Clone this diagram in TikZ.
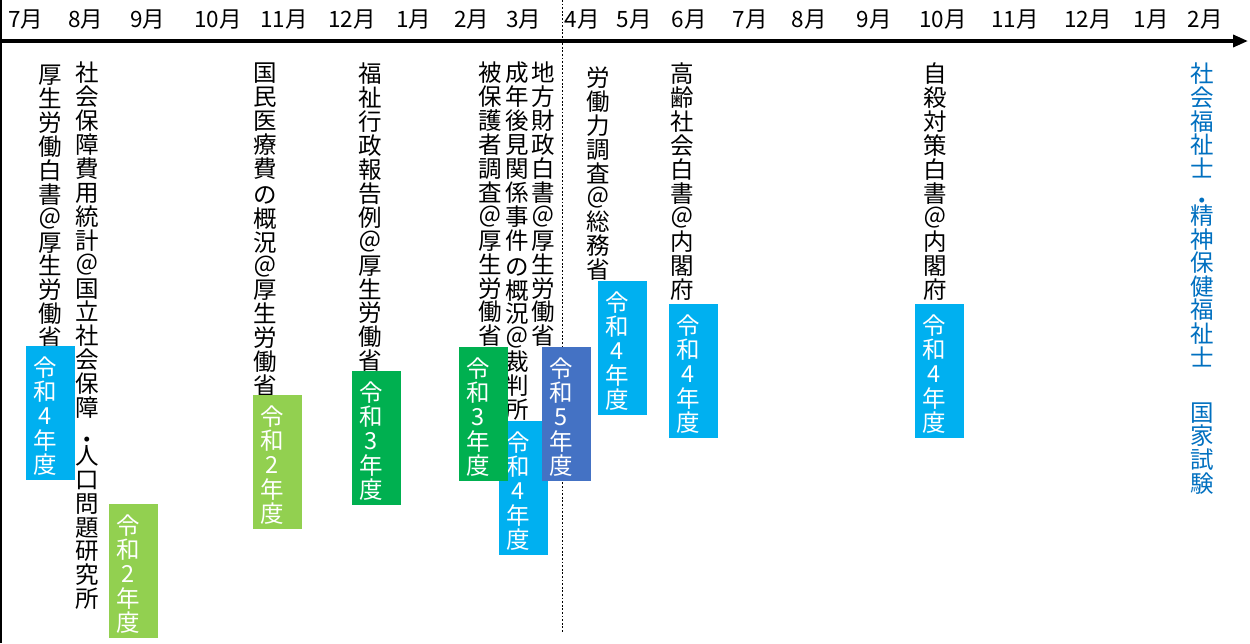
\documentclass[tikz,border=0pt]{standalone}
\usepackage{fontspec}
\setmainfont{Noto Sans CJK JP}
\usetikzlibrary{arrows.meta}
\definecolor{cyanbox}{HTML}{00B0F0}
\definecolor{lgreen}{HTML}{92D050}
\definecolor{dgreen}{HTML}{00B050}
\definecolor{bluebox}{HTML}{4472C4}
\definecolor{txtblue}{HTML}{0070C0}
\begin{document}
\begin{tikzpicture}[x=1pt,y=-1pt,
  month/.style={font=\fontsize{22.5}{24}\selectfont, inner sep=0pt, anchor=center},
  vtext/.style={font=\fontsize{23.5}{23.9}\selectfont, align=center, inner sep=0pt, anchor=north},
  yearbox/.style={minimum width=49pt, minimum height=134pt, inner sep=0pt, draw=none},
  yeartext/.style={font=\fontsize{23.5}{24.2}\selectfont, align=center, inner sep=0pt, text=white},
  axisline/.style={line width=3.5pt, -{Triangle[length=15pt,width=12pt]}},
  dotline/.style={line width=0.9pt, dash pattern=on 1.8pt off 1.8pt},
]
\useasboundingbox (0,0) rectangle (1250,643);
\fill[white] (0,0) rectangle (1250,643);

% left border and axis
\coordinate (lbT) at (0.8,0);
\coordinate (lbB) at (0.8,643);
\draw[line width=1.6pt] (lbT) -- (lbB);
\coordinate (axL) at (0,41);
\coordinate (axR) at (1248,41);
\draw[axisline] (axL) -- (axR);

% dotted separator
\coordinate (dT) at (562,0);
\coordinate (dB) at (562,633);
\draw[dotline] (dT) -- (dB);

% months
\node[month] (m1) at (26,20) {7月};
\node[month] (m2) at (86,20) {8月};
\node[month] (m3) at (148,20) {9月};
\node[month] (m4) at (218,20) {10月};
\node[month] (m5) at (284,20) {11月};
\node[month] (m6) at (352,20) {12月};
\node[month] (m7) at (414,20) {1月};
\node[month] (m8) at (472,20) {2月};
\node[month] (m9) at (524,20) {3月};
\node[month] (m10) at (582,20) {4月};
\node[month] (m11) at (634,20) {5月};
\node[month] (m12) at (689,20) {6月};
\node[month] (m13) at (750,20) {7月};
\node[month] (m14) at (809,20) {8月};
\node[month] (m15) at (874,20) {9月};
\node[month] (m16) at (943,20) {10月};
\node[month] (m17) at (1015,20) {11月};
\node[month] (m18) at (1088,20) {12月};
\node[month] (m19) at (1151,20) {1月};
\node[month] (m20) at (1205,20) {2月};

% vertical texts
\node[vtext] (t1) at (50,65) {厚\\生\\労\\働\\白\\書\\＠\\厚\\生\\労\\働\\省};
\node[vtext] (t2) at (87,62) {社\\会\\保\\障\\費\\用\\統\\計\\＠\\国\\立\\社\\会\\保\\障\\\smash{\raisebox{-8pt}{・}}\\人\\口\\問\\題\\研\\究\\所};
\node[vtext] (t3) at (265,63) {国\\民\\医\\療\\費\\[2pt]の\\概\\況\\＠\\厚\\生\\労\\働\\省};
\node[vtext] (t4) at (370,63) {福\\祉\\行\\政\\報\\告\\例\\＠\\厚\\生\\労\\働\\省};
\node[vtext] (t5) at (490,62) {被\\保\\護\\者\\調\\査\\＠\\厚\\生\\労\\働\\省};
\node[vtext] (t6) at (517,62) {成\\年\\後\\見\\関\\係\\事\\件\\[2pt]の\\概\\況\\＠\\裁\\判\\所};
\node[vtext] (t7) at (543,62) {地\\方\\財\\政\\白\\書\\＠\\厚\\生\\労\\働\\省};
\node[vtext] (t8) at (598,67) {労\\働\\力\\調\\査\\＠\\総\\務\\省};
\node[vtext] (t9) at (682,63) {高\\齢\\社\\会\\白\\書\\＠\\内\\閣\\府};
\node[vtext] (t10) at (935,63) {自\\殺\\対\\策\\白\\書\\＠\\内\\閣\\府};
\node[vtext, text=txtblue, font=\fontsize{23.5}{23.6}\selectfont] (t11) at (1202,63)
  {社\\会\\福\\祉\\士\\\smash{\raisebox{-9pt}{・}}\\精\\神\\保\\健\\福\\祉\\士\\　\\[8pt]国\\家\\試\\験};

% year boxes (F first: it lies under E and G)
\node[yearbox, fill=cyanbox] (bF) at (523.5,488) {};
\node[yeartext] (yF) at ([xshift=-5pt,yshift=-3pt]bF.center) {令\\和\\4\\年\\度};

\node[yearbox, fill=cyanbox] (bA) at (50.5,413) {};
\node[yeartext] (yA) at ([xshift=-5pt,yshift=-3pt]bA.center) {令\\和\\4\\年\\度};
\node[yearbox, fill=lgreen] (bB) at (133.5,571) {};
\node[yeartext] (yB) at ([xshift=-5pt,yshift=-3pt]bB.center) {令\\和\\2\\年\\度};
\node[yearbox, fill=lgreen] (bC) at (277.5,462) {};
\node[yeartext] (yC) at ([xshift=-5pt,yshift=-3pt]bC.center) {令\\和\\2\\年\\度};
\node[yearbox, fill=dgreen] (bD) at (376.5,438) {};
\node[yeartext] (yD) at ([xshift=-5pt,yshift=-3pt]bD.center) {令\\和\\3\\年\\度};
\node[yearbox, fill=dgreen] (bE) at (483.5,414) {};
\node[yeartext] (yE) at ([xshift=-5pt,yshift=-3pt]bE.center) {令\\和\\3\\年\\度};
\node[yearbox, fill=bluebox] (bG) at (566.5,414) {};
\node[yeartext] (yG) at ([xshift=-5pt,yshift=-3pt]bG.center) {令\\和\\5\\年\\度};
\node[yearbox, fill=cyanbox] (bH) at (622.5,348) {};
\node[yeartext] (yH) at ([xshift=-5pt,yshift=-3pt]bH.center) {令\\和\\4\\年\\度};
\node[yearbox, fill=cyanbox] (bI) at (693.5,371) {};
\node[yeartext] (yI) at ([xshift=-5pt,yshift=-3pt]bI.center) {令\\和\\4\\年\\度};
\node[yearbox, fill=cyanbox] (bJ) at (939.5,371) {};
\node[yeartext] (yJ) at ([xshift=-5pt,yshift=-3pt]bJ.center) {令\\和\\4\\年\\度};
\end{tikzpicture}
\end{document}
